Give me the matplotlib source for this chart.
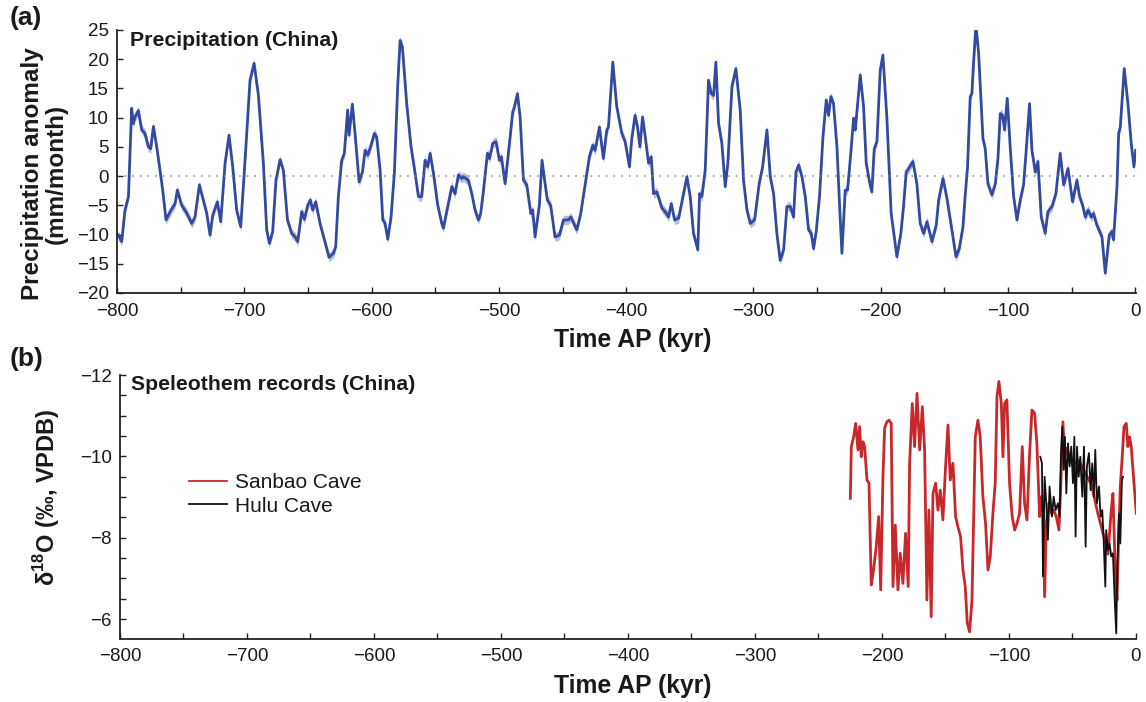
import numpy as np
import matplotlib
matplotlib.use("Agg")
import matplotlib.pyplot as plt
from matplotlib.ticker import MultipleLocator

plt.rcParams['font.family'] = ['Liberation Sans', 'DejaVu Sans']
plt.rcParams['mathtext.fontset'] = 'custom'
plt.rcParams['mathtext.rm'] = 'Liberation Sans'
plt.rcParams['mathtext.bf'] = 'Liberation Sans:bold'

# ---- Panel (a): simulated precipitation anomaly (mm/month) ----
precip_time = [
    -799, -796.3, -793.7, -791, -788.5, -787.2, -785.9, -783.2, -780.6, -778, -775.4, -773.5, -771.4,
    -768.8, -766.2, -764.1, -761.5, -758.3, -754.4, -752.6, -749.2, -745.3, -741.3, -738.7, -735.3,
    -732.2, -729.5, -726.9, -724.8, -721.2, -718.5, -715.1, -712, -709.1, -706, -702.8, -699.4, -695.5,
    -692.3, -688.9, -685, -682.4, -680.3, -677.7, -675.1, -671.9, -669.3, -666.1,
    -662.8, -660.1, -658, -654.9, -652.8, -650.2, -648.1, -646.3, -643.9, -640.5, -637.1, -633.4,
    -630, -628.2, -626.1, -623.5, -621.4, -618.8, -617.7, -615.1, -613, -609.8, -607.2, -605.1, -603,
    -600.4, -597.8, -596, -593.3, -591.2, -589.4, -587.3, -584.7, -582.1, -579.5, -577.6, -575.8,
    -572.4, -569, -565.8, -563.2, -560.6, -558, -555.9, -554, -551.4, -548, -544.9, -543.6, -540.2,
    -537, -534.4, -531.8, -529.2,
    -527.9, -524, -521.3, -518.7, -516.1, -514.3, -512.2, -509, -507.4, -504.8, -502.2, -499.6, -498,
    -495.1, -492.5, -489.1, -488.1, -485.4, -483.3, -480.7, -478.1, -474.9, -473.4, -471.6, -468.2,
    -466.1, -463.7, -461.9, -459.3, -455.9, -452.4, -449.3, -445.4, -443.5, -438.8, -435.7, -431.5,
    -428.9, -426.2, -424.4, -421, -417.9, -415.2, -413.9, -410.5, -407.4, -403.4, -400.8, -397.4,
    -395.6, -393, -391.1,
    -389.2, -387.1, -385, -382.4, -380.3, -378.5, -375.9, -371.9, -369.3, -366.7, -364.6, -362,
    -358.8, -356.2, -352.3, -349.7, -347.1, -343.7, -342.3, -340.5, -337.9, -335.3, -333.2, -331.3,
    -329.5, -327.4, -324.8, -322.2, -320.1, -316.9, -313.8, -310.4, -307.8, -305.1, -302.5, -299.1,
    -295.5, -292.8, -289.4, -286.8, -284.2, -281.6, -279, -276.3, -273.7, -271.1, -268.5, -266.6,
    -264.5, -261.9, -259.3, -256.7, -254.6,
    -252.8, -250.7, -248.1, -245.4, -242.8, -241, -239.2, -237.1, -234.4, -232.3, -230.5, -227.9,
    -226.1, -224, -221.3, -220, -216.1, -213.5, -211.4, -208.8, -207, -205.1, -203, -200.4, -198.3,
    -195.2, -191.8, -187.3, -184.2, -182.1, -180, -178.1, -174.7, -171.6, -169, -166.3, -163.7,
    -159.8, -156.4, -154.5, -151.1, -148, -144.1, -140.9, -138.3, -135.4, -133.6, -131.8, -129.7,
    -128.4, -127.1, -125.2, -123.1, -119.7, -117.9,
    -115.8, -112.7, -110, -107.9, -106.1, -104.3, -102.7, -100.6, -98.3, -95.6, -93, -90.4, -87.8,
    -85.9, -83.1, -81.2, -78.6, -76.5, -73.9, -70.8, -68.7, -65.5, -62.4, -59, -56.3, -52.9, -49.3,
    -45.9, -43.8, -41.4, -39.3, -37.2, -34.6, -32.8, -30.2, -26.2, -23.6, -20.5, -18.4, -17.1, -14.4,
    -13.1, -11.8, -8.7, -5.8, -3.2, -1.1, 0.3,
]
precip_anom = [
    -10.1, -11.2, -5.8, -3.5, 11.6, 9.0, 10.1, 11.2, 7.9, 7.3, 5.0, 4.7, 8.5,
    5.0, 1.0, -2.4, -7.5, -6.1, -4.7, -2.4, -5.0, -6.3, -8.1, -7.0, -1.5,
    -4.1, -6.4, -10.1, -6.7, -4.4, -7.8, 2.2, 7.0, 1.6, -5.8, -8.7, 2.7, 16.4,
    19.3, 13.8, 2.2, -9.2, -11.5, -9.5, -0.7, 2.8, 1.0, -7.5,
    -9.8, -10.4, -11.2, -6.1, -7.4, -5.0, -4.1, -5.8, -4.4, -8.1, -10.9, -13.9,
    -13.2, -12.1, -3.5, 2.7, 3.9, 11.3, 7.0, 12.3, 7.3, -1.0, 0.7, 4.4, 3.6,
    5.3, 7.3, 6.7, 1.0, -7.5, -8.1, -10.8, -7.0, 0.5, 15.3, 23.2, 22.1,
    12.4, 5.0, 0.5, -3.5, -3.5, 2.7, 1.6, 3.9, 0.5, -5.0, -8.1, -8.9, -5.2,
    -1.8, -3.0, 0.2, -0.4,
    -0.1, -0.7, -3.0, -5.8, -7.5, -6.4, -2.7, 3.9, 3.0, 5.6, 5.9, 2.7, 3.3,
    -1.3, 3.9, 11.0, 11.6, 14.1, 10.1, -0.7, -1.5, -6.4, -5.8, -10.4, -5.0,
    2.7, -1.3, -4.1, -5.0, -10.4, -10.1, -7.5, -7.5, -7.0, -9.2, -6.4, -0.4,
    3.3, 5.3, 4.4, 8.4, 3.0, 7.9, 8.4, 19.5, 11.9, 7.3, 5.9, 1.6,
    6.4, 10.4, 8.4,
    5.0, 10.1, 6.7, 2.2, 3.3, -3.0, -2.7, -5.5, -6.1, -7.0, -4.7, -7.5,
    -7.2, -4.4, -0.1, -3.5, -9.8, -12.6, -3.0, -3.5, 1.0, 16.4, 14.1, 13.8,
    19.5, 9.0, 5.6, -1.8, 2.2, 15.3, 18.4, 11.3, -0.7, -5.8, -8.1, -7.5,
    -1.3, 1.6, 7.9, -0.1, -3.0, -9.8, -14.4, -12.6, -5.2, -5.2, -7.0, 0.7,
    1.9, -0.1, -3.5, -9.2, -9.8,
    -12.4, -9.5, -3.5, 6.7, 13.0, 10.4, 13.6, 12.4, 5.0, -5.2, -13.2, -2.4,
    -2.4, 2.7, 9.9, 7.9, 17.3, 11.9, 2.2, -1.0, -2.7, 4.7, 5.9, 18.1, 20.7,
    10.1, -6.4, -13.8, -9.8, -5.2, 0.7, 1.3, 2.5, -1.3, -8.1, -9.8, -7.8,
    -11.2, -8.4, -4.1, -0.4, -3.8, -9.2, -13.8, -12.4, -8.7, -3.2, 1.6, 13.6,
    14.1, 19.3, 25.8, 21.0, 6.4, 4.7,
    -1.3, -3.2, -1.3, 3.0, 10.7, 10.4, 7.9, 13.3, 5.0, -3.5, -7.5, -4.1, -1.5,
    3.9, 12.4, 4.4, 0.7, 2.5, -7.0, -9.8, -6.1, -5.2, -3.0, 3.9, -1.5, 1.3, -4.4,
    -0.7, -3.5, -5.0, -7.0, -5.8, -7.0, -6.4, -8.4, -10.4, -16.6, -10.1, -9.5, -10.9, -1.8,
    7.3, 8.4, 18.4, 12.4, 5.6, 1.6, 4.4,
]
precip_spread = 0.8  # half-width of the shaded uncertainty band

# ---- Panel (b): speleothem d18O records ----
sanbao_time = [
    -224.9, -224.1, -222.3, -220.7, -218.9, -217.6, -216.3, -215, -213.6, -211.8, -210.2, -208.4,
    -206.6, -204.5, -202.6, -201, -199.2, -197.9, -196.1, -194.5, -192.7, -191.3, -189.5, -187.4,
    -185.6, -183.5, -181.4, -179.3, -178.2, -176.1, -174.3, -172.4, -170.3, -168.2, -166.4, -164.6,
    -163, -161.2, -159.8, -157.7, -155.9, -154.1, -152, -149.9, -148, -146.2, -144.1, -142, -140.2,
    -138.1, -136.2, -134.4, -132.8, -131, -129.1, -127.8, -126.5, -124.4, -122.6, -120.5, -118.4,
    -116.5, -114.7, -112.6, -110.8, -109.4, -107.9, -106, -104.7, -103.4, -101.6, -99.5, -97.4,
    -95.5, -93.7, -91.6, -89.5, -87.7, -85.8, -83.7, -81.9, -79.8, -78, -75.8, -74.5, -73.2, -71.9,
    -70.6, -68.5, -66.7, -64.8, -62.7, -60.6, -59.3, -57.5, -56.2, -55, -50, -45, -40, -35, -30,
    -25, -22, -19.4, -18.1, -16.3, -14.9, -13.6, -12.3, -10.8, -9.4, -7.6, -6.3, -5, -3.7, -2.3,
    -1.1, 0.3,
]
sanbao_d18o = [
    -8.97, -10.24, -10.48, -10.81, -10.16, -10.73, -9.99, -10.36, -10.24, -9.42, -9.34, -6.84,
    -7.21, -7.78, -8.52, -6.72, -9.50, -10.69, -10.85, -10.89, -10.81, -6.80, -8.31, -6.72,
    -7.62, -6.88, -8.11, -6.80, -9.83, -11.30, -10.24, -11.55, -10.16, -11.22, -10.16, -6.47,
    -8.68, -6.06, -9.09, -9.34, -8.68, -9.17, -8.44, -9.75, -10.77, -9.42, -9.83, -8.52, -8.27,
    -8.03, -7.21, -6.80, -5.90, -5.69, -6.47, -8.44, -10.48, -10.89, -10.48, -9.01, -8.35,
    -7.21, -7.54, -8.60, -9.34, -11.47, -11.84, -11.30, -9.99, -11.30, -11.39, -9.34, -8.52,
    -8.19, -8.35, -8.60, -10.24, -8.85, -8.44, -10.08, -11.14, -11.06, -10.32, -8.52, -9.01, -8.68, -6.55,
    -8.35, -8.85, -8.60, -8.68, -8.52, -8.19, -9.17, -10.85, -9.99, -10.2, -9.8, -9.9, -9.6, -9.3, -8.6,
    -8.0, -7.6, -8.68, -9.09, -7.21, -6.47, -8.03, -9.26, -9.99, -10.73, -10.81, -10.24, -10.48, -10.24, -9.67,
    -9.17, -8.60,
]
hulu_time = [
    -75.3, -74.0, -73.2, -71.9, -70.6, -69.3, -68.0, -66.1, -64.8, -63.2, -61.4, -60.1, -59.0, -58.0,
    -56.9, -55.9, -54.8, -53.5, -52.2, -50.9, -49.6, -48.5, -47.5, -46.4, -45.1, -43.8, -42.2, -40.9,
    -39.6, -38.6, -37.0, -35.7, -34.4, -33.1, -32.0, -30.7, -29.1, -27.8, -26.5, -25.5, -24.1, -23.4,
    -22.0, -20.8, -19.4, -18.1, -16.8, -15.5, -14.7, -13.4, -12.3, -11.0, -10.2,
]
hulu_d18o = [
    -9.99, -9.83, -7.05, -9.50, -8.85, -7.95, -9.26, -8.52, -9.01, -8.68, -8.85, -8.52, -10.08, -10.73,
    -9.67, -10.48, -9.09, -10.32, -9.75, -10.24, -9.34, -10.48, -8.03, -10.24, -9.50, -9.99, -9.01, -10.24,
    -7.78, -9.75, -10.08, -9.17, -9.83, -9.01, -10.16, -8.85, -9.26, -8.52, -8.68, -8.03, -6.80, -8.19,
    -7.70, -7.86, -7.54, -7.62, -6.55, -5.65, -7.21, -8.60, -7.86, -9.42, -9.50,
]

W, H = 1146, 702
fig = plt.figure(figsize=(W / 100, H / 100), dpi=100)

spine_col = '#222222'
text_col = '#1a1a1a'


def minus(v):
    return f'\u2212{abs(v)}' if v < 0 else str(v)


def style_axes(ax):
    for s in ['top', 'right']:
        ax.spines[s].set_visible(False)
    for s in ['left', 'bottom']:
        ax.spines[s].set_linewidth(1.3)
        ax.spines[s].set_color(spine_col)
    ax.tick_params(which='both', direction='in', length=4, width=1.0, color=spine_col,
                   labelsize=13.5, labelcolor=text_col)
    ax.tick_params(axis='x', which='major', pad=7)
    ax.tick_params(axis='y', which='major', pad=6)


# Top panel
ax1 = fig.add_axes([117 / W, 1 - 293 / H, (1135.7 - 117) / W, (293 - 30) / H])
t = np.array(precip_time)
p = np.array(precip_anom)
ax1.fill_between(t, p - precip_spread, p + precip_spread, color='#9aa6dc', alpha=0.75, lw=0)
ax1.plot(t, p, color='#3449a0', lw=2.0, solid_joinstyle='round')
ax1.axhline(0, color='#888888', lw=1.1, ls=(0, (1, 4)))
ax1.set_xlim(-800, 0.3)
ax1.set_ylim(-20, 25)
ax1.xaxis.set_minor_locator(MultipleLocator(50))
style_axes(ax1)
xt = list(range(-800, 1, 100))
ax1.set_xticks(xt)
ax1.set_xticklabels([minus(v) for v in xt])
yt = list(range(-20, 26, 5))
ax1.set_yticks(yt)
ax1.set_yticklabels([minus(v) for v in yt])

# Bottom panel
ax2 = fig.add_axes([120 / W, 1 - 638.7 / H, (1136.3 - 120) / W, (638.7 - 375) / H])
ax2.plot(sanbao_time, sanbao_d18o, color='#c8282a', lw=2.0, label='Sanbao Cave')
ax2.plot(hulu_time, hulu_d18o, color='#111111', lw=1.3, label='Hulu Cave')
ax2.set_xlim(-800, 0.3)
ax2.set_ylim(-5.52, -12)
ax2.xaxis.set_minor_locator(MultipleLocator(50))
ax2.yaxis.set_minor_locator(MultipleLocator(0.5))
style_axes(ax2)
ax2.set_xticks(xt)
ax2.set_xticklabels([minus(v) for v in xt])
ax2.set_yticks([-12, -10, -8, -6])
ax2.set_yticklabels([minus(v) for v in [-12, -10, -8, -6]])
leg = ax2.legend(loc='upper left', bbox_to_anchor=(0.060, 0.66), frameon=False,
                 fontsize=15, handlelength=1.8, handletextpad=0.4, labelspacing=0.22,
                 borderaxespad=0)
for line in leg.get_lines():
    line.set_linewidth(1.3)
for txt in leg.get_texts():
    txt.set_color(text_col)

# Texts
fig.text(10 / W, 1 - 18 / H, '(a)', fontsize=19, fontweight='bold', va='center', ha='left', color=text_col)
fig.text(10 / W, 1 - 359 / H, '(b)', fontsize=19, fontweight='bold', va='center', ha='left', color=text_col)
fig.text(130 / W, 1 - 41 / H, 'Precipitation (China)', fontsize=15.3, fontweight='bold',
         va='center', ha='left', color=text_col)
fig.text(131 / W, 1 - 384 / H, 'Speleothem records (China)', fontsize=15.3, fontweight='bold',
         va='center', ha='left', color=text_col)
fig.text(633 / W, 1 - 340 / H, 'Time AP (kyr)', fontsize=17.8, fontweight='bold',
         va='center', ha='center', color=text_col)
fig.text(633 / W, 1 - 686 / H, 'Time AP (kyr)', fontsize=17.8, fontweight='bold',
         va='center', ha='center', color=text_col)
fig.text(44 / W, 1 - 174 / H, 'Precipitation anomaly\n(mm/month)', fontsize=17.5, fontweight='bold',
         va='center', ha='center', rotation=90, multialignment='center', linespacing=1.05,
         color=text_col)
fig.text(47 / W, 1 - 497 / H, r'δ$^{\mathbf{18}}$O (‰, VPDB)', fontsize=17, fontweight='bold',
         va='center', ha='center', rotation=90, color=text_col)

fig.savefig('out.png', dpi=100)
